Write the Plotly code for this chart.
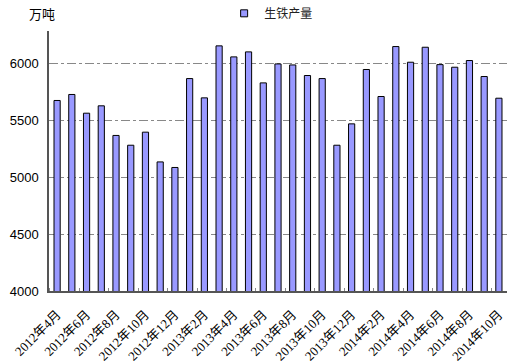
import plotly.graph_objects as go

months = []
for y, ms in [(2012, range(4, 13)), (2013, range(1, 13)), (2014, range(1, 11))]:
    for m in ms:
        months.append(f"{y}年{m}月")

values = [5678, 5731, 5566, 5631, 5370, 5284, 5399, 5137, 5088,
          5871, 5701, 6159, 6062, 6106, 5833, 6000, 5991, 5898, 5871, 5284, 5472,
          5951, 5713, 6153, 6015, 6147, 5994, 5971, 6030, 5889, 5698]

series_name = "生铁产量"
unit_label = "万吨"
y_ticks = [4000, 4500, 5000, 5500, 6000]

idx = list(range(len(months)))
tick_idx = idx[::2]
tick_text = [months[i] for i in tick_idx]

fig = go.Figure()
fig.add_trace(go.Bar(
    x=idx, y=values, name=series_name, showlegend=False,
    marker=dict(color="#9999FF", line=dict(color="#000000", width=1)),
    width=0.42,
))
# legend entry with a small square symbol
fig.add_trace(go.Scatter(
    x=[None], y=[None], mode="markers", name=series_name,
    marker=dict(symbol="square", size=7, color="#9999FF", line=dict(color="#000", width=1)),
))

fig.update_layout(
    width=522, height=364,
    margin=dict(l=49, r=15, t=31, b=73, autoexpand=False),
    plot_bgcolor="white", paper_bgcolor="white",
    showlegend=True,
    legend=dict(orientation="h", x=0.485, xanchor="center", y=1.068, yanchor="middle",
                itemwidth=30, font=dict(family="Noto Sans CJK SC", size=12, color="#222"),
                bgcolor="rgba(0,0,0,0)"),
    font=dict(family="Liberation Sans, Noto Sans CJK SC", size=12, color="#000"),
    annotations=[dict(text=unit_label, xref="paper", yref="paper", x=-0.015, y=1.068,
                      xanchor="center", yanchor="middle", showarrow=False,
                      font=dict(family="Noto Sans CJK SC", size=13, color="#000"))],
)

fig.update_xaxes(
    range=[-0.55, len(months) - 0.45],
    tickmode="array", tickvals=tick_idx, ticktext=tick_text, tickangle=-45,
    tickfont=dict(family="Liberation Serif, Noto Sans CJK SC", size=13, color="#000"),
    showline=True, linecolor="#555", linewidth=1.5,
    showgrid=False, ticks="", zeroline=False, ticklabelstandoff=9,
    minor=dict(tick0=1.5, dtick=2, ticks="inside", ticklen=3, tickcolor="#888", showgrid=False),
)
fig.update_yaxes(
    range=[4000, 6290], tickmode="array", tickvals=y_ticks,
    tickfont=dict(family="Liberation Sans", size=13, color="#000"),
    showline=True, linecolor="#555", linewidth=1.5,
    showgrid=True, gridcolor="#888", griddash="dashdot", gridwidth=1,
    ticks="", zeroline=False, ticklabelstandoff=6,
)

fig.write_html("out.html")
